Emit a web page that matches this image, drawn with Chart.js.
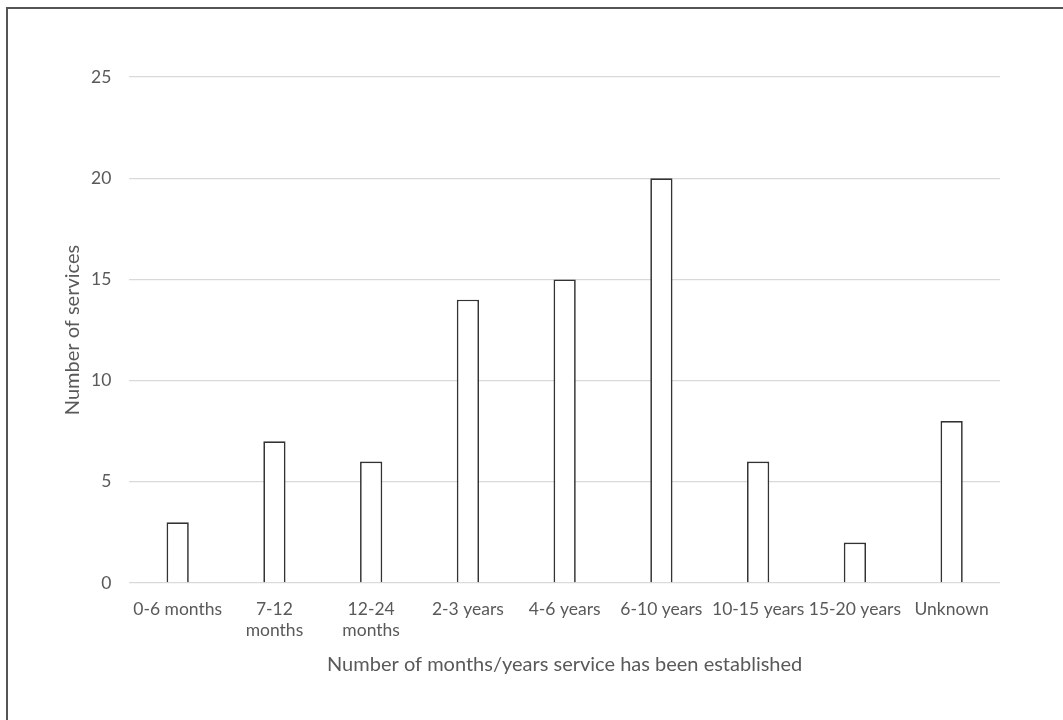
<!DOCTYPE html>
<html>
<head>
<meta charset="utf-8">
<script src="https://cdn.jsdelivr.net/npm/chart.js@4"></script>
<style>
  html, body { margin: 0; padding: 0; background: #fff; }
  #wrap { position: relative; width: 1063px; height: 720px; overflow: hidden; }
  #frame { position: absolute; left: 6px; top: 7px; width: 1100px; height: 760px;
           border-top: 2px solid #555; border-left: 2px solid #555; pointer-events: none; }
  canvas { position: absolute; left: 0; top: 0; }
</style>
</head>
<body>
<div id="wrap">
  <canvas id="chart" width="1063" height="720"></canvas>
  <div id="frame"></div>
</div>
<script>
// Categories and values
const categories = [
    '0-6 months', ['7-12', 'months'], ['12-24', 'months'], '2-3 years', '4-6 years',
    '6-10 years', '10-15 years', '15-20 years', 'Unknown'
];
const services = [3, 7, 6, 14, 15, 20, 6, 2, 8];
const yTicks = [0, 5, 10, 15, 20, 25];

const font = "Lato, 'Open Sans', sans-serif";
const grey = '#595959';

const ctx = document.getElementById('chart').getContext('2d');
new Chart(ctx, {
    type: 'bar',
    data: {
        labels: categories,
        datasets: [{
            data: services,
            backgroundColor: '#ffffff',
            borderColor: '#333333',
            borderWidth: 1.7,
            barPercentage: 0.25,
            categoryPercentage: 0.92
        }]
    },
    options: {
        responsive: false,
        animation: false,
        layout: { padding: { left: 35, right: 63, top: 77, bottom: 39 } },
        plugins: { legend: { display: false }, tooltip: { enabled: false } },
        scales: {
            x: {
                grid: { display: false },
                border: { display: false },
                ticks: { color: grey, font: { family: font, size: 17.5 }, maxRotation: 0, autoSkip: false, padding: 8 },
                title: {
                    display: true, text: 'Number of months/years service has been established',
                    color: grey, font: { family: font, size: 20 }, padding: { top: 4 }
                }
            },
            y: {
                min: 0, max: 25,
                afterBuildTicks: axis => { axis.ticks = yTicks.map(v => ({ value: v })); },
                grid: { color: '#d9d9d9', lineWidth: 1.3, drawTicks: false },
                border: { display: false },
                ticks: { color: grey, font: { family: font, size: 17.5 }, padding: 18 },
                title: {
                    display: true, text: 'Number of services',
                    color: grey, font: { family: font, size: 20 }, padding: { top: 26, bottom: -12 }
                }
            }
        }
    }
});
</script>
</body>
</html>
